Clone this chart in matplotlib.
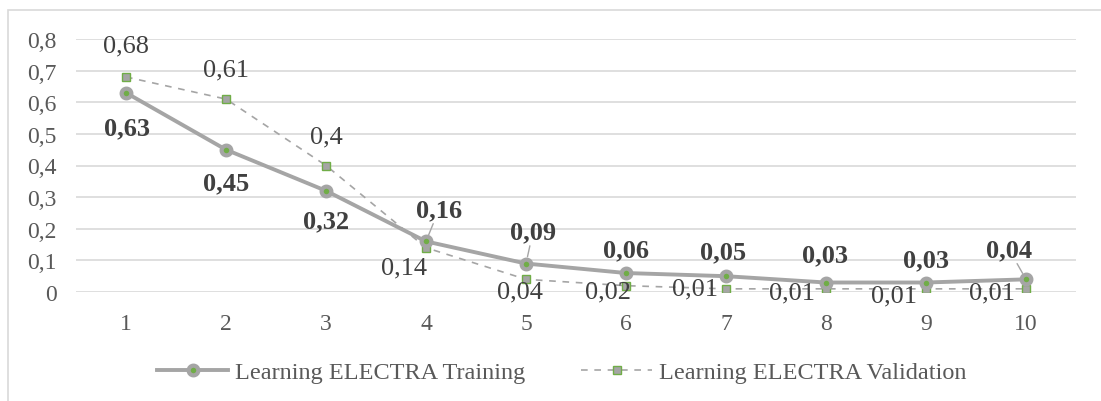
import matplotlib.pyplot as plt
from matplotlib.patches import Rectangle

epochs = [1, 2, 3, 4, 5, 6, 7, 8, 9, 10]
training = [0.63, 0.45, 0.32, 0.16, 0.09, 0.06, 0.05, 0.03, 0.03, 0.04]
validation = [0.68, 0.61, 0.4, 0.14, 0.04, 0.02, 0.01, 0.01, 0.01, 0.01]
yticks = [0, 0.1, 0.2, 0.3, 0.4, 0.5, 0.6, 0.7, 0.8]

# label offsets in pixels (dx, dy), and whether a leader line is drawn
train_off = [(1, -35), (0, -33), (0, -30), (13, 32), (7, 32), (0, 23), (-3, 24), (-1, 28), (0, 23), (-17, 30)]
train_lead = [False, False, False, True, True, False, False, False, False, True]
val_off = [(0, 31), (0, 30), (0, 29), (-22, -20), (-6, -12), (-18, -6), (-31, 0), (-34, -4), (-32, -7), (-34, -4)]

gray = '#A5A5A5'
green = '#70AD47'
plt.rcParams['font.family'] = ['Liberation Serif', 'DejaVu Serif']

fig = plt.figure(figsize=(11.01, 4.02), dpi=100)
fig.patches.append(Rectangle((8 / 1101, -10 / 402), 1110 / 1101, 401 / 402, transform=fig.transFigure,
                             fill=False, edgecolor='#D9D9D9', linewidth=1.2))
ax = fig.add_axes([76 / 1101, 1 - 293 / 402, 1000 / 1101, 253 / 402])

ax.plot(epochs, validation, color=gray, linestyle=(0, (4, 4)), linewidth=1.2,
        marker='s', markersize=6, markerfacecolor=gray, markeredgecolor=green,
        markeredgewidth=1, label='Learning ELECTRA Validation', zorder=3)
ax.plot(epochs, training, color=gray, linewidth=2.8,
        marker='o', markersize=7, markerfacecolor=green, markeredgecolor=gray,
        markeredgewidth=3, label='Learning ELECTRA Training', zorder=4)

for x, y, (dx, dy), lead in zip(epochs, training, train_off, train_lead):
    arrow = dict(arrowstyle='-', color=gray, lw=1, shrinkA=0, shrinkB=5) if lead else None
    ax.annotate(f'{y:g}'.replace('.', ','), (x, y), xytext=(dx, dy), textcoords='offset pixels',
                ha='center', va='center', fontsize=19, fontweight='bold', color='#404040',
                arrowprops=arrow, zorder=5)
for x, y, (dx, dy) in zip(epochs, validation, val_off):
    ax.annotate(f'{y:g}'.replace('.', ','), (x, y), xytext=(dx, dy), textcoords='offset pixels',
                ha='center', va='center', fontsize=19, color='#404040', zorder=5)

ax.set_xlim(0.5, 10.5)
ax.set_ylim(0, 0.8)
ax.set_xticks(epochs)
ax.set_yticks(yticks)
ax.set_yticklabels([f'{v:g}'.replace('.', ',') for v in yticks])
ax.tick_params(length=0, labelsize=17, labelcolor='#595959')
ax.tick_params(axis='y', pad=14)
ax.tick_params(axis='x', pad=15)
ax.grid(axis='y', color='#D9D9D9', linewidth=1.2)
ax.set_axisbelow(True)
for s in ax.spines.values():
    s.set_visible(False)

h, l = ax.get_legend_handles_labels()
fig.legend(h[::-1], l[::-1], loc='center', bbox_to_anchor=(562 / 1101, 1 - 373 / 402), ncol=2,
           frameon=False, fontsize=17.5, handlelength=2.9, handletextpad=0.3, columnspacing=2.3,
           labelcolor='#595959')

fig.savefig('out.png', dpi=100)
